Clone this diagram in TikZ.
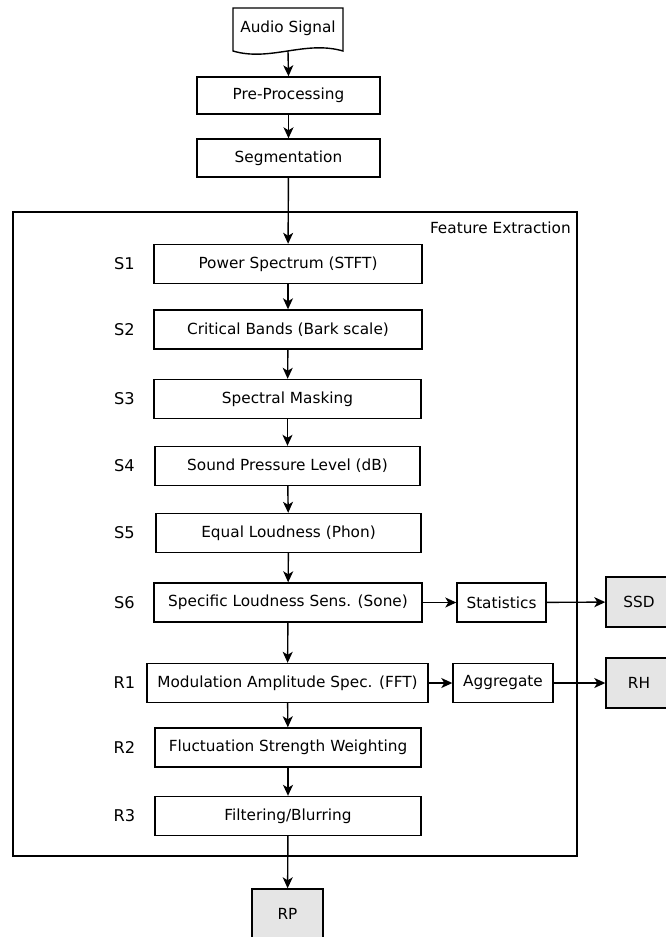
\documentclass[tikz,border=0pt]{standalone}
\usepackage{fontspec}
\setmainfont{DejaVu Sans}
\usetikzlibrary{arrows.meta}
\definecolor{boxgray}{RGB}{229,229,229}
\tikzset{
  lw/.style={line width=1.4pt},
  box/.style={draw, lw, inner sep=0pt, minimum height=39pt, font=\fontsize{15.3}{18}\selectfont},
  outbox/.style={box, fill=boxgray, minimum width=66pt, minimum height=50pt},
  lab/.style={inner sep=0pt, font=\fontsize{16.2}{19}\selectfont},
  arr/.style={lw, -{Stealth[length=11pt,width=10pt,inset=3pt]}},
}
\begin{document}
\begin{tikzpicture}[x=1pt,y=-1pt]
\useasboundingbox (0,0) rectangle (665,937);
% Audio signal (document shape)
\draw[lw] (233,51) -- (233,8) -- (343,8) -- (343,51)
  .. controls (305,40) and (270,62) .. cycle;
\node[inner sep=0pt, font=\fontsize{15.3}{18}\selectfont] (audio) at (288,28) {Audio Signal};
\coordinate (audiob) at (288,51);
\node[box, minimum width=183pt, minimum height=37pt] (pre) at (288.5,95.5) {Pre-Processing};
\node[box, minimum width=183pt, minimum height=38pt] (seg) at (288.5,158) {Segmentation};
% frame
\node[draw, lw, inner sep=0pt, minimum width=564pt, minimum height=644pt] (fe) at (295,534) {};
\node[anchor=east, inner sep=0pt, font=\fontsize{15.3}{18}\selectfont] (fel) at (571,228) {Feature Extraction};
% steps
\node[box, minimum width=268pt] (s1) at (288,264) {Power Spectrum (STFT)};
\node[box, minimum width=268pt] (s2) at (288,329.5) {Critical Bands (Bark scale)};
\node[box, minimum width=267pt] (s3) at (287.5,399) {Spectral Masking};
\node[box, minimum width=265pt] (s4) at (287.5,466) {Sound Pressure Level (dB)};
\node[box, minimum width=265pt] (s5) at (288.5,533) {Equal Loudness (Phon)};
\node[box, minimum width=268pt] (s6) at (288,602.5) {Specific Loudness Sens. (Sone)};
\node[box, minimum width=281pt] (r1) at (287.5,683) {Modulation Amplitude Spec. (FFT)};
\node[box, minimum width=266pt] (r2) at (288,747.5) {Fluctuation Strength Weighting};
\node[box, minimum width=266pt] (r3) at (288,816) {Filtering/Blurring};
\node[box, minimum width=89pt] (stat) at (501.5,602.5) {Statistics};
\node[box, minimum width=100pt] (agg) at (503,683) {Aggregate};
\node[outbox] (ssd) at (639,602) {SSD};
\node[outbox] (rh) at (639,683) {RH};
\node[outbox, minimum width=71pt] (rp) at (287.5,914) {RP};
% labels
\node[lab] (l1) at (124.5,264) {S1};
\node[lab] (l2) at (124.5,329.5) {S2};
\node[lab] (l3) at (124.5,399) {S3};
\node[lab] (l4) at (124.5,466) {S4};
\node[lab] (l5) at (124.5,533) {S5};
\node[lab] (l6) at (124.5,602.5) {S6};
\node[lab] (m1) at (124.5,683) {R1};
\node[lab] (m2) at (124.5,747.5) {R2};
\node[lab] (m3) at (124.5,816) {R3};
% connectors
\draw[arr] (audiob) -- (pre.north);
\draw[arr] (pre) -- (seg);
\draw[arr] (seg) -- (s1);
\draw[arr] (s1) -- (s2);
\draw[arr] (s2) -- (s3);
\draw[arr] (s3) -- (s4);
\draw[arr] (s4) -- (s5);
\draw[arr] (s5) -- (s6);
\draw[arr] (s6) -- (r1);
\draw[arr] (r1) -- (r2);
\draw[arr] (r2) -- (r3);
\draw[arr] (r3) -- (rp);
\draw[arr] (s6) -- (stat);
\draw[arr] (stat) -- (ssd);
\draw[arr] (r1) -- (agg);
\draw[arr] (agg) -- (rh);
\end{tikzpicture}
\end{document}
